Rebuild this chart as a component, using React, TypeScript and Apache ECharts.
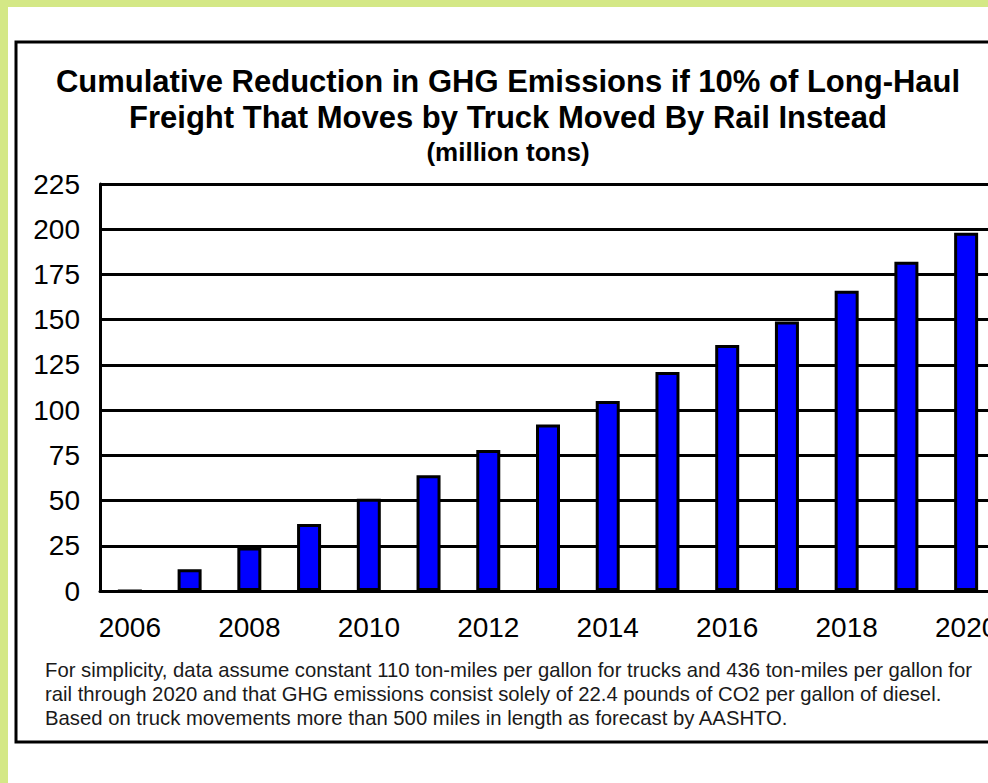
import React, { useEffect, useRef } from "react";
import * as echarts from "echarts";

const years = ["2006","2007","2008","2009","2010","2011","2012","2013","2014","2015","2016","2017","2018","2019","2020"];
const reduction = [0, 12, 24, 37, 51, 64, 78, 92, 105, 121, 136, 149, 166, 182, 198];
const titleLines = [
  "Cumulative Reduction in GHG Emissions if 10% of Long-Haul",
  "Freight That Moves by Truck Moved By Rail Instead",
  "(million tons)",
];
const noteLines = [
  "For simplicity, data assume constant 110 ton-miles per gallon for trucks and 436 ton-miles per gallon for",
  "rail through 2020 and that GHG emissions consist solely of 22.4 pounds of CO2 per gallon of diesel.",
  "Based on truck movements more than 500 miles in length as forecast by AASHTO.",
];

const FONT = "'Liberation Sans', Arial, sans-serif";

export default function App() {
  const ref = useRef<HTMLDivElement>(null);
  useEffect(() => {
    if (!ref.current) return;
    const chart = echarts.init(ref.current, null, { renderer: "svg" });
    const titleY = [81, 117, 152];
    const titleSize = [31, 31, 26];
    const noteY = [670, 694, 718];
    chart.setOption({
      animation: false,
      backgroundColor: "#ffffff",
      graphic: [
        { type: "rect", z: -10, silent: true, shape: { x: 0, y: 0, width: 988, height: 783 }, style: { fill: "#d4e886" } },
        { type: "rect", z: -9, silent: true, shape: { x: 8, y: 7, width: 990, height: 790 }, style: { fill: "#ffffff" } },
        { type: "rect", z: -8, silent: true, shape: { x: 16, y: 42, width: 1000, height: 700 }, style: { fill: "none", stroke: "#000", lineWidth: 3 } },
        ...titleLines.map((t, i) => ({
          type: "text",
          x: 508,
          y: titleY[i],
          style: { text: t, fill: "#000", font: `bold ${titleSize[i]}px ${FONT}`, textAlign: "center", textVerticalAlign: "middle" },
        })),
        ...noteLines.map((t, i) => ({
          type: "text",
          x: 45,
          y: noteY[i],
          style: { text: t, fill: "#1a1a1a", font: `20.3px ${FONT}`, textAlign: "left", textVerticalAlign: "middle" },
        })),
      ],
      grid: { left: 100, top: 184, width: 896, height: 407, containLabel: false, outerBoundsMode: "none" },
      xAxis: {
        type: "category",
        data: years,
        boundaryGap: true,
        axisLine: { lineStyle: { color: "#000", width: 3 } },
        axisTick: { show: false },
        axisLabel: {
          interval: 1,
          margin: 22,
          color: "#000",
          fontSize: 28,
          fontFamily: FONT,
        },
      },
      yAxis: {
        type: "value",
        min: 0,
        max: 225,
        interval: 25,
        axisLine: { show: true, lineStyle: { color: "#000", width: 3 } },
        axisTick: { show: false },
        axisLabel: { margin: 20, color: "#000", fontSize: 28, fontFamily: FONT },
        splitLine: { show: true, lineStyle: { color: "#000", width: 3 } },
      },
      series: [
        {
          type: "bar",
          data: reduction,
          barWidth: 24,
          itemStyle: { color: "#0000ff", borderColor: "#000", borderWidth: 3 },
        },
      ],
    });
    return () => chart.dispose();
  }, []);
  return <div ref={ref} style={{ position: "fixed", left: 0, top: 0, width: 988, height: 783 }} />;
}
